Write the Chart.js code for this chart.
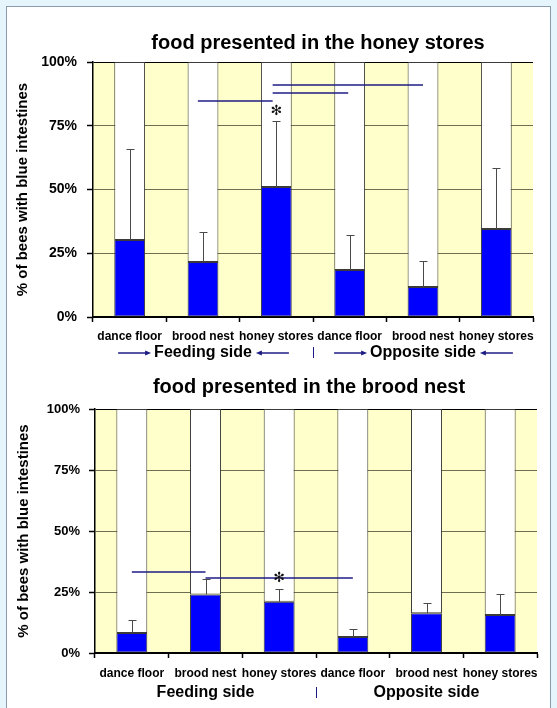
<!DOCTYPE html>
<html>
<head>
<meta charset="utf-8">
<script src="https://cdn.jsdelivr.net/npm/chart.js@4"></script>
<style>
  html, body { margin: 0; padding: 0; width: 557px; height: 708px; overflow: hidden; background: #e6f4fc; }
  #panel { position: absolute; left: 6px; top: 6px; width: 543px; height: 720px; background: #ffffff; border: 1px solid #8a9bb0; }
  canvas { position: absolute; left: 0; }
  #honeyChart { top: 0; }
  #broodChart { top: 365px; }
</style>
</head>
<body>
<div id="panel"></div>
<canvas id="honeyChart" width="557" height="365"></canvas>
<canvas id="broodChart" width="557" height="343"></canvas>
<script>
// Hive locations where marked bees were sampled
const categories = ['dance floor', 'brood nest', 'honey stores', 'dance floor', 'brood nest', 'honey stores'];
const groupNames = ['Feeding side', 'Opposite side'];
const yTickValues = [0, 25, 50, 75, 100];

// Food presented in the honey stores: % of bees with blue intestines and upper error
const honeyTitle = 'food presented in the honey stores';
const honeyValues = [30.2, 21.6, 51.0, 18.4, 11.8, 34.5];
const honeyErrors = [35.7, 11.7, 26.0, 13.8, 10.2, 24.0];
// significance brackets: [from category, to category, level in %]
const honeyLinks = [[0.93, 1.95, 84.7], [1.95, 4.0, 91.0], [1.95, 2.98, 87.8]];
const honeyStarAt = [2];

// Food presented in the brood nest
const broodTitle = 'food presented in the brood nest';
const broodValues = [8.2, 24.0, 21.0, 6.6, 16.3, 15.6];
const broodErrors = [5.3, 6.3, 5.2, 3.4, 4.2, 8.4];
const broodLinks = [[0, 1, 33.2], [1, 3, 30.7]];
const broodStarAt = [2];

const FONT = "'Liberation Sans', Arial, sans-serif";
Chart.defaults.font.family = FONT;
Chart.defaults.color = '#000';

const NAVY = '#1c1c84';

function arrow(ctx, x0, x1, y) {
  // shaft from x0 to x1, head at x1
  const dir = Math.sign(x1 - x0);
  ctx.beginPath();
  ctx.moveTo(x0, y); ctx.lineTo(x1 - dir * 4, y); ctx.stroke();
  ctx.beginPath();
  ctx.moveTo(x1, y); ctx.lineTo(x1 - dir * 6, y - 2.5); ctx.lineTo(x1 - dir * 6, y + 2.5);
  ctx.closePath(); ctx.fill();
}

const decorations = {
  id: 'decorations',
  beforeDraw(chart) {
    const { ctx, chartArea: a } = chart;
    ctx.save();
    ctx.fillStyle = '#ffffcc';
    ctx.fillRect(a.left, a.top, a.right - a.left, a.bottom - a.top);
    ctx.restore();
  },
  afterDatasetsDraw(chart, args, o) {
    const ctx = chart.ctx, xs = chart.scales.x, ys = chart.scales.y;
    ctx.save();
    // upper error bars
    ctx.strokeStyle = '#4a4a4a';
    ctx.lineWidth = 1;
    o.values.forEach((v, i) => {
      const px = Math.round(xs.getPixelForValue(i)) + 0.5;
      const y0 = ys.getPixelForValue(v);
      const y1 = Math.round(ys.getPixelForValue(v + o.errors[i])) + 0.5;
      ctx.beginPath();
      ctx.moveTo(px, y0); ctx.lineTo(px, y1);
      ctx.moveTo(px - 4, y1); ctx.lineTo(px + 4, y1);
      ctx.stroke();
    });
    // significance lines
    ctx.strokeStyle = NAVY;
    ctx.lineWidth = 1.5;
    o.links.forEach(([a, b, lvl]) => {
      const y = ys.getPixelForValue(lvl);
      ctx.beginPath();
      ctx.moveTo(xs.getPixelForValue(a), y);
      ctx.lineTo(xs.getPixelForValue(b), y);
      ctx.stroke();
    });
    // asterisks above the significant bar
    ctx.fillStyle = '#111';
    ctx.font = "bold 14px 'DejaVu Sans'";
    ctx.textAlign = 'center';
    ctx.textBaseline = 'middle';
    o.stars.forEach(i => {
      const y = ys.getPixelForValue(o.values[i] + o.errors[i]) - o.starGap;
      ctx.fillText('\u273B', xs.getPixelForValue(i), y);
    });
    ctx.restore();
  },
  afterDraw(chart, args, o) {
    const ctx = chart.ctx, xs = chart.scales.x;
    ctx.save();
    // chart title
    ctx.fillStyle = '#000';
    ctx.textAlign = 'center';
    ctx.textBaseline = 'middle';
    ctx.font = 'bold ' + o.titleSize + 'px ' + FONT;
    ctx.fillText(o.title, o.titleX, o.titleY);
    // group labels under the category ticks
    ctx.font = 'bold 16px ' + FONT;
    const centers = [xs.getPixelForValue(1), xs.getPixelForValue(4)];
    ctx.strokeStyle = NAVY;
    ctx.lineWidth = 1.5;
    groupNames.forEach((name, g) => {
      const cx = centers[g];
      const w = ctx.measureText(name).width;
      ctx.fillStyle = '#000';
      ctx.fillText(name, cx, o.groupY);
      if (o.arrows) {
        ctx.fillStyle = NAVY;
        const l = cx - w / 2 - 3, r = cx + w / 2 + 4;
        arrow(ctx, l - 33, l, o.groupY);
        arrow(ctx, r + 33, r, o.groupY);
      }
    });
    // divider between the two sides
    const dx = Math.round((xs.getPixelForValue(2) + xs.getPixelForValue(3)) / 2) + 0.5;
    ctx.strokeStyle = NAVY;
    ctx.lineWidth = 1;
    ctx.beginPath();
    ctx.moveTo(dx, o.groupY - 6); ctx.lineTo(dx, o.groupY + 5);
    ctx.stroke();
    ctx.restore();
  }
};

function makeChart(id, cfg) {
  return new Chart(document.getElementById(id), {
    type: 'bar',
    data: {
      labels: categories,
      datasets: [
        { data: cfg.values, backgroundColor: '#0000ff', borderColor: '#3a3a3a', borderWidth: 1,
          borderSkipped: false, barPercentage: 0.42, categoryPercentage: 1 },
        { data: cfg.values.map(v => 100 - v), backgroundColor: '#ffffff', borderColor: '#3a3a3a', borderWidth: 1,
          borderSkipped: false, barPercentage: 0.42, categoryPercentage: 1 }
      ]
    },
    options: {
      responsive: false,
      animation: false,
      events: [],
      layout: { padding: cfg.padding },
      plugins: {
        legend: { display: false },
        tooltip: { enabled: false },
        title: { display: false },
        decorations: {
          values: cfg.values, errors: cfg.errors, links: cfg.links, stars: cfg.stars, starGap: cfg.starGap,
          title: cfg.title, titleX: cfg.titleX, titleY: cfg.titleY, titleSize: cfg.titleSize,
          groupY: cfg.groupY, arrows: cfg.arrows
        }
      },
      scales: {
        x: {
          stacked: true,
          offset: true,
          afterFit: s => { s.height = cfg.xHeight; },
          grid: { drawOnChartArea: false, drawTicks: true, tickLength: 5, tickColor: '#000', tickWidth: 1.5, offset: true },
          border: { color: '#000', width: 2 },
          ticks: { font: { size: 12, weight: 'bold' }, color: '#000', padding: cfg.xPad, maxRotation: 0, autoSkip: false }
        },
        y: {
          stacked: true,
          min: 0, max: 100,
          afterFit: s => { s.width = cfg.yWidth; },
          afterBuildTicks: s => { s.ticks = yTickValues.map(v => ({ value: v })); },
          grid: {
            color: c => c.tick.value === 100 ? '#000' : (c.tick.value === 0 ? 'rgba(0,0,0,0)' : '#6e6e52'),
            lineWidth: 1, tickLength: 6, tickColor: '#000', tickWidth: 1.5
          },
          border: { color: '#000', width: 1.5 },
          ticks: { callback: v => v + '%', font: { size: cfg.yFont, weight: 'bold' }, color: '#000', padding: cfg.yPad },
          title: { display: true, text: '% of bees with blue intestines', font: { size: 15, weight: 'bold' }, color: '#000', padding: 0 }
        }
      }
    },
    plugins: [decorations]
  });
}

makeChart('honeyChart', {
  values: honeyValues, errors: honeyErrors, links: honeyLinks, stars: honeyStarAt, starGap: 9,
  title: honeyTitle, titleX: 318, titleY: 43, titleSize: 20,
  padding: { left: 14, right: 24, top: 62, bottom: 0 },
  yWidth: 79, xHeight: 48, xPad: 7, yFont: 14, yPad: 10,
  groupY: 353, arrows: true
});

makeChart('broodChart', {
  values: broodValues, errors: broodErrors, links: broodLinks, stars: broodStarAt, starGap: 11,
  title: broodTitle, titleX: 309, titleY: 22, titleSize: 20,
  padding: { left: 15, right: 20, top: 44, bottom: 0 },
  yWidth: 80, xHeight: 55, xPad: 8, yFont: 13, yPad: 9,
  groupY: 328, arrows: false
});
</script>
</body>
</html>
